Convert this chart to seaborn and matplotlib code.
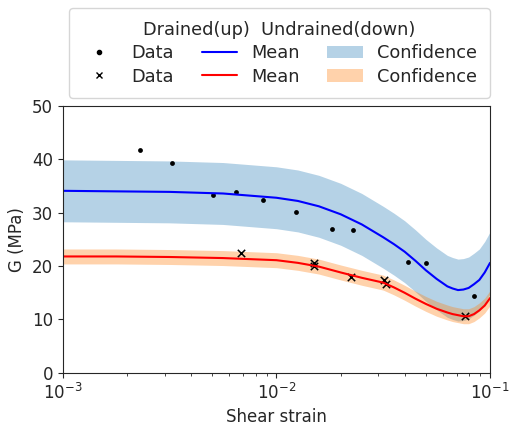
import numpy as np
import pandas as pd
import matplotlib
matplotlib.use("Agg")
import matplotlib.pyplot as plt
import seaborn as sns
from matplotlib.lines import Line2D
from matplotlib.patches import Patch

# Measured data (drained / undrained)
drained_strain = [0.0023, 0.00324, 0.00502, 0.00644, 0.00867, 0.01233, 0.01824, 0.0228, 0.0414, 0.050, 0.0843]
drained_G = [41.8, 39.4, 33.3, 33.8, 32.3, 30.1, 26.9, 26.8, 20.7, 20.6, 14.4]

undrained_strain = [0.00679, 0.0150, 0.0150, 0.0223, 0.0320, 0.0325, 0.0764]
undrained_G = [22.4, 20.6, 20.0, 18.0, 17.3, 16.6, 10.6]

# Model curves (read at log-spaced strains)
curve_strain = [0.001, 0.00178, 0.00316, 0.00562, 0.01, 0.0126, 0.0158, 0.02, 0.0251,
                0.0316, 0.0355, 0.0398, 0.0447, 0.0501, 0.0562, 0.0631, 0.0668, 0.0708,
                0.075, 0.0794, 0.0841, 0.0891, 0.0944, 0.1]
drained_mean = [34.1, 34.0, 33.9, 33.6, 32.8, 32.2, 31.2, 29.7, 27.8, 25.4, 24.1, 22.7,
                21.0, 19.2, 17.6, 16.2, 15.8, 15.5, 15.6, 15.9, 16.6, 17.4, 18.8, 20.6]
drained_lower = [28.3, 28.2, 28.1, 27.8, 27.0, 26.4, 25.4, 23.9, 22.0, 19.6, 18.3, 16.9,
                 15.2, 13.4, 11.8, 10.4, 10.0, 9.7, 9.8, 10.1, 10.8, 11.6, 13.0, 14.8]
drained_upper = [39.9, 39.8, 39.7, 39.4, 38.6, 38.0, 37.0, 35.5, 33.6, 31.2, 29.9, 28.5,
                 26.8, 25.0, 23.4, 22.0, 21.6, 21.3, 21.4, 21.7, 22.4, 23.2, 24.6, 26.4]
undrained_mean = [21.8, 21.8, 21.7, 21.5, 21.1, 20.6, 19.9, 18.8, 17.8, 16.9, 16.0, 15.0,
                  13.9, 12.9, 12.0, 11.3, 11.0, 10.8, 10.6, 10.6, 11.0, 11.7, 12.6, 14.0]
undrained_lower = [20.4, 20.4, 20.3, 20.1, 19.7, 19.2, 18.5, 17.4, 16.4, 15.5, 14.6, 13.6,
                   12.5, 11.5, 10.6, 9.9, 9.6, 9.4, 9.2, 9.2, 9.6, 10.3, 11.2, 12.6]
undrained_upper = [23.2, 23.2, 23.1, 22.9, 22.5, 22.0, 21.3, 20.2, 19.2, 18.3, 17.4, 16.4,
                   15.3, 14.3, 13.4, 12.7, 12.4, 12.2, 12.0, 12.0, 12.4, 13.1, 14.0, 15.4]

sns.set_style("ticks")
plt.rcParams["font.family"] = ["DejaVu Sans"]

fig = plt.figure(figsize=(5.11, 4.29), dpi=100)
ax = fig.add_axes([0.123, 0.131, 0.836, 0.622])
ax.set_xscale("log")

ax.fill_between(curve_strain, drained_lower, drained_upper, color="tab:blue",
                alpha=0.33, linewidth=0)
ax.fill_between(curve_strain, undrained_lower, undrained_upper, color="tab:orange",
                alpha=0.35, linewidth=0)

df_curve = pd.DataFrame({"strain": curve_strain, "dm": drained_mean, "um": undrained_mean})
sns.lineplot(data=df_curve, x="strain", y="dm", color="blue", linewidth=1.5, ax=ax)
sns.lineplot(data=df_curve, x="strain", y="um", color="red", linewidth=1.5, ax=ax)

df_d = pd.DataFrame({"strain": drained_strain, "G": drained_G})
df_u = pd.DataFrame({"strain": undrained_strain, "G": undrained_G})
sns.scatterplot(data=df_d, x="strain", y="G", marker="o", s=12, color="black",
                edgecolor="black", linewidth=0, ax=ax)
sns.scatterplot(data=df_u, x="strain", y="G", marker="x", s=28, color="black",
                linewidth=1.1, ax=ax)

ax.set_xlim(1e-3, 1e-1)
ax.set_ylim(0, 50)
ax.set_yticks([0, 10, 20, 30, 40, 50])
ax.set_xlabel("Shear strain", fontsize=12)
ax.set_ylabel("G (MPa)", fontsize=12)
ax.tick_params(axis="both", labelsize=12)

h_dot = Line2D([], [], marker=".", linestyle="none", color="black", markersize=6)
h_x = Line2D([], [], marker="x", linestyle="none", color="black", markersize=5)
h_bl = Line2D([], [], color="blue", linewidth=1.5)
h_rl = Line2D([], [], color="red", linewidth=1.5)
h_bp = Patch(facecolor="tab:blue", alpha=0.33, linewidth=0)
h_op = Patch(facecolor="tab:orange", alpha=0.35, linewidth=0)
ax.legend([h_dot, h_x, h_bl, h_rl, h_bp, h_op],
          ["Data", "Data", "Mean", "Mean", "Confidence", "Confidence"],
          ncol=3, loc="lower center", bbox_to_anchor=(0.507, 1.0),
          title="Drained(up)  Undrained(down)", fontsize=12.8, title_fontsize=12.8,
          frameon=True, borderaxespad=0.45, borderpad=0.7, columnspacing=1.55,
          handlelength=2.0, labelspacing=0.3)

fig.savefig("out.png", dpi=100)
